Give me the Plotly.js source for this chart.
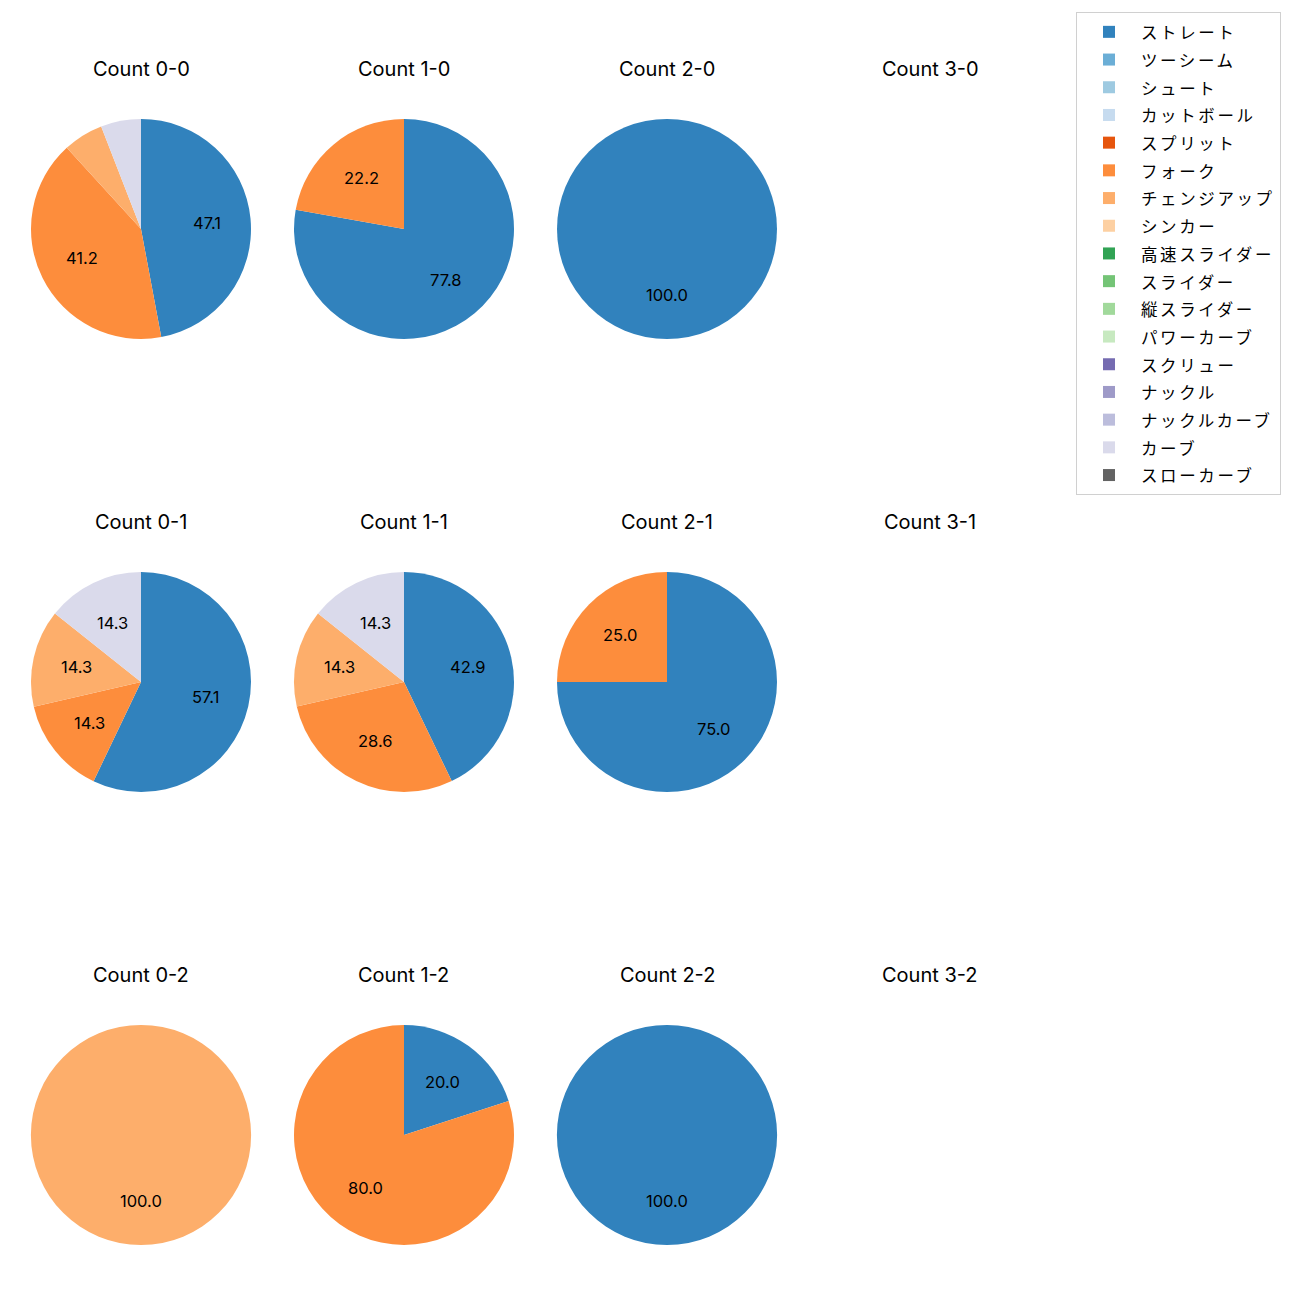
<!DOCTYPE html>
<html>
<head>
<meta charset="utf-8">
<script src="https://cdn.plot.ly/plotly-3.0.1.min.js"></script>
<style>html,body{margin:0;padding:0;background:#fff;}</style>
</head>
<body>
<div id="chart" style="width:1300px;height:1300px;"></div>
<script>
// Pitch types (legend order) and their colours
const pitchTypes = ["ストレート","ツーシーム","シュート","カットボール","スプリット","フォーク","チェンジアップ","シンカー","高速スライダー","スライダー","縦スライダー","パワーカーブ","スクリュー","ナックル","ナックルカーブ","カーブ","スローカーブ"];
const pitchColors = ["#3182bd","#6baed6","#9ecae1","#c6dbef","#e6550d","#fd8d3c","#fdae6b","#fdd0a2","#31a354","#74c476","#a1d99b","#c7e9c0","#756bb1","#9e9ac8","#bcbddc","#dadaeb","#636363"];

// Percentages per ball-strike count (same order as pitchTypes)
const count00 = [47.1,0,0,0,0,41.2,5.9,0,0,0,0,0,0,0,0,5.9,0];
const count10 = [77.8,0,0,0,0,22.2,0,0,0,0,0,0,0,0,0,0,0];
const count20 = [100.0,0,0,0,0,0,0,0,0,0,0,0,0,0,0,0,0];
const count30 = [];
const count01 = [57.1,0,0,0,0,14.3,14.3,0,0,0,0,0,0,0,0,14.3,0];
const count11 = [42.9,0,0,0,0,28.6,14.3,0,0,0,0,0,0,0,0,14.3,0];
const count21 = [75.0,0,0,0,0,25.0,0,0,0,0,0,0,0,0,0,0,0];
const count31 = [];
const count02 = [0,0,0,0,0,0,100.0,0,0,0,0,0,0,0,0,0,0];
const count12 = [20.0,0,0,0,0,80.0,0,0,0,0,0,0,0,0,0,0,0];
const count22 = [100.0,0,0,0,0,0,0,0,0,0,0,0,0,0,0,0,0];
const count32 = [];

const countTitles = ["Count 0-0","Count 1-0","Count 2-0","Count 3-0","Count 0-1","Count 1-1","Count 2-1","Count 3-1","Count 0-2","Count 1-2","Count 2-2","Count 3-2"];
const countValues = [count00,count10,count20,count30,count01,count11,count21,count31,count02,count12,count22,count32];

// Layout geometry (pixels)
const W = 1300, H = 1300;
const colCenters = [141, 404, 667, 930];
const rowCenters = [229, 682, 1135];
const R = 110;
const titleOffset = 160;
const FONT = "Inter, Noto Sans CJK JP, DejaVu Sans, sans-serif";
const JFONT = "Noto Sans CJK JP, sans-serif";

const legendLabel = l => '<span style="font-size:16.5px;letter-spacing:2.6px">' + l + '</span>';

const traces = [];
const annotations = [];
countValues.forEach((vals, k) => {
  const cx = colCenters[k % 4], cy = rowCenters[Math.floor(k / 4)];
  annotations.push({
    text: countTitles[k], xref: 'paper', yref: 'paper',
    x: cx / W, y: 1 - (cy - titleOffset) / H, xanchor: 'center', yanchor: 'middle',
    showarrow: false, font: {family: FONT, size: 20, color: '#000'}
  });
  if (!vals.length) return;
  traces.push({
    type: 'pie',
    labels: pitchTypes.map(legendLabel),
    values: vals,
    marker: {colors: pitchColors, line: {width: 0}},
    sort: false,
    direction: 'clockwise',
    rotation: 0,
    textinfo: 'none',
    hoverinfo: 'label+percent',
    showlegend: k === 0,
    domain: {x: [(cx - R) / W, (cx + R) / W], y: [1 - (cy + R) / H, 1 - (cy - R) / H]}
  });
  const total = vals.reduce((a, b) => a + b, 0);
  let cum = 0;
  vals.forEach(v => {
    if (v > 0) {
      const th = (90 - 360 * (cum + v / 2) / total) * Math.PI / 180;
      if (v / total * 100 >= 10) {
        annotations.push({
          text: v.toFixed(1), xref: 'paper', yref: 'paper',
          x: (cx + 0.6 * R * Math.cos(th)) / W, y: 1 - (cy - 0.6 * R * Math.sin(th)) / H,
          xanchor: 'center', yanchor: 'middle', showarrow: false,
          font: {family: FONT, size: 16.5, color: '#000'}
        });
      }
    }
    cum += v;
  });
});

const layout = {
  width: W, height: H,
  margin: {l: 0, r: 0, t: 0, b: 0},
  paper_bgcolor: '#fff',
  showlegend: true,
  legend: {
    x: 1076 / W, y: 1 - 12 / H, xanchor: 'left', yanchor: 'top',
    bgcolor: '#fff', bordercolor: '#d0d0d0', borderwidth: 1,
    font: {family: JFONT, size: 19, color: '#000'},
    itemwidth: 54,
    traceorder: 'normal'
  },
  annotations: annotations
};

Plotly.newPlot('chart', traces, layout, {displayModeBar: false, staticPlot: true});
</script>
</body>
</html>
